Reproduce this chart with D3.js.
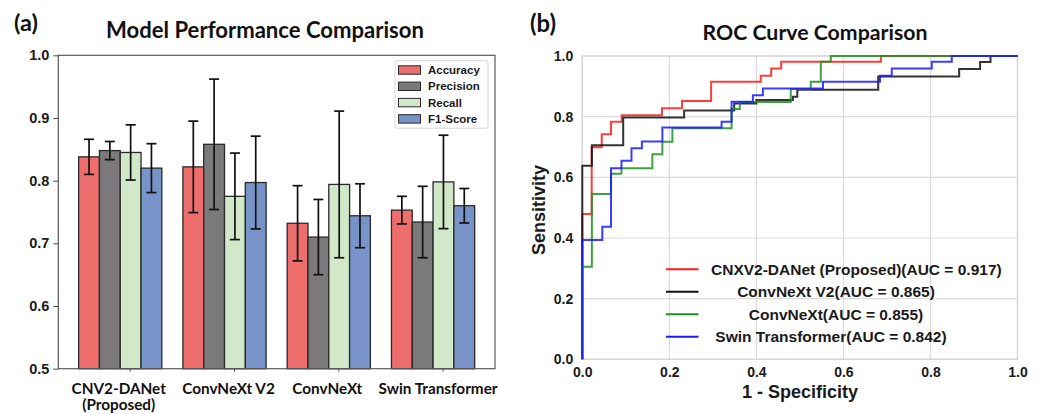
<!DOCTYPE html>
<html><head><meta charset="utf-8">
<script src="https://cdn.jsdelivr.net/npm/d3@7"></script>
<style>
html,body{margin:0;padding:0;background:#fff;}
svg{display:block;}
.cal{font-family:Lato,"Open Sans",sans-serif;font-weight:bold;fill:#111;}
.ar{font-family:"Liberation Sans",Arial,sans-serif;font-weight:bold;fill:#1a1a1a;}
</style></head>
<body>
<svg id="chart" width="1047" height="414"></svg>
<script>
// ---------- Data: panel (a) ----------
const categories = ["CNV2-DANet (Proposed)", "ConvNeXt V2", "ConvNeXt", "Swin Transformer"];
const categoryLines = [["CNV2-DANet", "(Proposed)"], ["ConvNeXt V2"], ["ConvNeXt"], ["Swin Transformer"]];
const metrics = ["Accuracy", "Precision", "Recall", "F1-Score"];
const accuracy     = [0.838, 0.822, 0.732, 0.753];
const accuracyErr  = [0.028, 0.073, 0.060, 0.022];
const precision    = [0.848, 0.858, 0.710, 0.734];
const precisionErr = [0.0145, 0.104, 0.060, 0.057];
const recall       = [0.845, 0.775, 0.794, 0.798];
const recallErr    = [0.044, 0.069, 0.117, 0.0745];
const f1           = [0.820, 0.797, 0.744, 0.760];
const f1Err        = [0.039, 0.074, 0.051, 0.0275];
const barTicks = [0.5, 0.6, 0.7, 0.8, 0.9, 1.0];

// ---------- Data: panel (b) ROC (step vertices) ----------
const rocModels = ["CNXV2-DANet (Proposed)", "ConvNeXt V2", "ConvNeXt", "Swin Transformer"];
const rocAUC = [0.917, 0.865, 0.855, 0.842];
const fprProposed = [0, 0, 0.0216, 0.0446, 0.066, 0.0906, 0.183, 0.229, 0.296, 0.41, 0.434, 0.457, 0.686, 1];
const tprProposed = [0, 0.479, 0.699, 0.742, 0.783, 0.805, 0.828, 0.852, 0.915, 0.935, 0.959, 0.981, 1, 1];
const fprV2 = [0, 0, 0.022, 0.094, 0.234, 0.349, 0.40, 0.484, 0.494, 0.68, 0.866, 0.914, 0.938, 1];
const tprV2 = [0, 0.638, 0.706, 0.797, 0.82, 0.843, 0.855, 0.866, 0.889, 0.932, 0.957, 0.98, 1, 1];
const fprConv = [0, 0, 0.022, 0.066, 0.09, 0.161, 0.184, 0.207, 0.343, 0.362, 0.479, 0.525, 0.548, 0.571, 1];
const tprConv = [0, 0.305, 0.545, 0.612, 0.63, 0.676, 0.717, 0.762, 0.825, 0.848, 0.891, 0.915, 0.981, 1, 1];
const fprSwin = [0, 0, 0.046, 0.066, 0.09, 0.113, 0.137, 0.184, 0.32, 0.343, 0.392, 0.415, 0.553, 0.684, 0.711, 0.803, 0.849, 1];
const tprSwin = [0, 0.393, 0.437, 0.63, 0.655, 0.696, 0.718, 0.764, 0.783, 0.849, 0.871, 0.893, 0.915, 0.935, 0.959, 0.981, 1, 1];
const rocTicks = [0, 0.2, 0.4, 0.6, 0.8, 1.0];

// ---------- Styles / layout ----------
const barColors = ["#ee6d6d", "#7b797b", "#d1e9c8", "#7893c8"];
const rocColors = ["#ff1a1a", "#111111", "#1f8f1f", "#1a1aff"];
const labelShift = [-1.5, 4, -1.5, 5];

const svg = d3.select("#chart");

function fitText(sel, target) {
  const node = sel.node();
  const fs = parseFloat(sel.attr("font-size"));
  const w = node.getComputedTextLength();
  if (w > 0) sel.attr("font-size", (fs * target / w).toFixed(2));
  return sel;
}

// ================= Panel (a) =================
const A = {left: 58.3, right: 495, top: 55.3, bottom: 368.7};
const x0 = d3.scaleBand().domain(categories).range([A.left, A.right]).paddingInner(0.202).paddingOuter(0.195);
const x1 = d3.scaleBand().domain(metrics).range([0, x0.bandwidth()]).padding(0);
const yA = d3.scaleLinear().domain([0.5, 1.0]).range([A.bottom, A.top]);

const series = [
  {name: metrics[0], vals: accuracy, errs: accuracyErr},
  {name: metrics[1], vals: precision, errs: precisionErr},
  {name: metrics[2], vals: recall, errs: recallErr},
  {name: metrics[3], vals: f1, errs: f1Err}
];
const barData = [];
categories.forEach((c, ci) => series.forEach((s, si) => barData.push({c, m: s.name, v: s.vals[ci], e: s.errs[ci], si})));

const gA = svg.append("g");
gA.selectAll("rect.bar").data(barData).join("rect")
  .attr("class", "bar")
  .attr("x", d => x0(d.c) + x1(d.m))
  .attr("y", d => yA(d.v))
  .attr("width", x1.bandwidth())
  .attr("height", d => yA(0.5) - yA(d.v))
  .attr("fill", d => barColors[d.si])
  .attr("stroke", "#2a2a2a").attr("stroke-width", 1.3);

// error bars
const eb = gA.selectAll("g.err").data(barData).join("g").attr("class", "err")
  .attr("stroke", "#111").attr("stroke-width", 1.7);
eb.append("line")
  .attr("x1", d => x0(d.c) + x1(d.m) + x1.bandwidth() / 2)
  .attr("x2", d => x0(d.c) + x1(d.m) + x1.bandwidth() / 2)
  .attr("y1", d => yA(d.v + d.e)).attr("y2", d => yA(d.v - d.e));
[1, -1].forEach(sign => {
  eb.append("line")
    .attr("x1", d => x0(d.c) + x1(d.m) + x1.bandwidth() / 2 - 5)
    .attr("x2", d => x0(d.c) + x1(d.m) + x1.bandwidth() / 2 + 5)
    .attr("y1", d => yA(d.v + sign * d.e)).attr("y2", d => yA(d.v + sign * d.e));
});

// frame
gA.append("rect").attr("x", A.left).attr("y", A.top).attr("width", A.right - A.left).attr("height", A.bottom - A.top)
  .attr("fill", "none").attr("stroke", "#5a5a5a").attr("stroke-width", 1.2);

// y axis
const yAxisA = d3.axisLeft(yA).tickValues(barTicks).tickFormat(d3.format(".1f")).tickSize(5).tickPadding(4);
const gyA = gA.append("g").attr("transform", `translate(${A.left},0)`).call(yAxisA);
gyA.select(".domain").remove();
gyA.selectAll(".tick line").attr("stroke", "#444");
gyA.selectAll(".tick text").attr("class", "ar").attr("font-size", 14.5).attr("fill", "#111");

// x category labels
const xLab = gA.selectAll("text.cat").data(categories).join("text")
  .attr("class", "cal").attr("text-anchor", "middle")
  .attr("font-size", 15.3)
  .attr("y", 394);
xLab.each(function(d, i) {
  const t = d3.select(this);
  const cx = x0(d) + x0.bandwidth() / 2 + labelShift[i];
  categoryLines[i].forEach((ln, li) => {
    t.append("tspan").attr("x", cx).attr("dy", li === 0 ? 0 : 16).text(ln);
  });
});

// small x ticks
gA.selectAll("line.xt").data(categories).join("line")
  .attr("x1", d => x0(d) + x0.bandwidth() / 2 + 10).attr("x2", d => x0(d) + x0.bandwidth() / 2 + 10)
  .attr("y1", A.bottom).attr("y2", A.bottom + 3).attr("stroke", "#555");

// legend (a)
const legA = gA.append("g");
legA.append("rect").attr("x", 395).attr("y", 60.7).attr("width", 93).attr("height", 67.5).attr("rx", 2)
  .attr("fill", "#fff").attr("stroke", "#d6d6d6");
metrics.forEach((m, i) => {
  const yy = 70 + i * 16.3;
  legA.append("rect").attr("x", 398.5).attr("y", yy - 4.2).attr("width", 22).attr("height", 8.4)
    .attr("fill", barColors[i]).attr("stroke", "#2a2a2a").attr("stroke-width", 1);
  legA.append("text").attr("class", "ar").attr("x", 428).attr("y", yy + 4).attr("font-size", 11.5).text(m);
});

// titles
fitText(svg.append("text").attr("class", "cal").attr("x", 265).attr("y", 37.5).attr("text-anchor", "middle")
  .attr("font-size", 19).text("Model Performance Comparison"), 318);
fitText(svg.append("text").attr("class", "cal").attr("x", 14).attr("y", 31).attr("font-size", 20).text("(a)"), 24);

// ================= Panel (b) =================
const B = {left: 582.3, right: 1017.5, top: 56, bottom: 359.3};
const xB = d3.scaleLinear().domain([0, 1]).range([B.left, B.right]);
const yB = d3.scaleLinear().domain([0, 1]).range([B.bottom, B.top]);
const gB = svg.append("g");

// grid
gB.selectAll("line.gx").data(rocTicks).join("line")
  .attr("x1", d => xB(d)).attr("x2", d => xB(d)).attr("y1", B.top).attr("y2", B.bottom)
  .attr("stroke", "#dcdcdc").attr("stroke-width", 1.2);
gB.selectAll("line.gy").data(rocTicks).join("line")
  .attr("y1", d => yB(d)).attr("y2", d => yB(d)).attr("x1", B.left).attr("x2", B.right)
  .attr("stroke", "#dcdcdc").attr("stroke-width", 1.2);
gB.append("rect").attr("x", B.left).attr("y", B.top).attr("width", B.right - B.left).attr("height", B.bottom - B.top)
  .attr("fill", "none").attr("stroke", "#d4d4d4").attr("stroke-width", 1.3);

// curves
const rocData = [
  {name: rocModels[0], fpr: fprProposed, tpr: tprProposed},
  {name: rocModels[1], fpr: fprV2, tpr: tprV2},
  {name: rocModels[2], fpr: fprConv, tpr: tprConv},
  {name: rocModels[3], fpr: fprSwin, tpr: tprSwin}
];
const line = d3.line().x(d => xB(d[0])).y(d => yB(d[1])).curve(d3.curveStepAfter);
rocData.forEach((r, i) => {
  gB.append("path").datum(d3.zip(r.fpr, r.tpr))
    .attr("d", line).attr("fill", "none")
    .attr("stroke", rocColors[i]).attr("stroke-width", 2).attr("stroke-opacity", 0.85);
});

// axes labels
const xAxisB = d3.axisBottom(xB).tickValues(rocTicks).tickFormat(d3.format(".1f")).tickSize(0).tickPadding(8);
const gxB = gB.append("g").attr("transform", `translate(0,${B.bottom})`).call(xAxisB);
gxB.select(".domain").remove();
gxB.selectAll(".tick text").attr("class", "ar").attr("font-size", 14).attr("fill", "#1a1a1a");
const yAxisB = d3.axisLeft(yB).tickValues(rocTicks).tickFormat(d3.format(".1f")).tickSize(0).tickPadding(9);
const gyB = gB.append("g").attr("transform", `translate(${B.left},0)`).call(yAxisB);
gyB.select(".domain").remove();
gyB.selectAll(".tick text").attr("class", "ar").attr("font-size", 14).attr("fill", "#1a1a1a");

svg.append("text").attr("class", "ar").attr("font-size", 18).attr("text-anchor", "middle")
  .attr("transform", "translate(545,210) rotate(-90)").text("Sensitivity");
svg.append("text").attr("class", "ar").attr("font-size", 18).attr("text-anchor", "middle")
  .attr("x", 800).attr("y", 398).text("1 - Specificity");

// legend (b)
const legB = gB.append("g");
rocData.forEach((r, i) => {
  const yy = 269.3 + i * 22.5;
  legB.append("line").attr("x1", 666).attr("x2", 698.5).attr("y1", yy).attr("y2", yy)
    .attr("stroke", rocColors[i]).attr("stroke-width", 2);
  const t = legB.append("text").attr("class", "ar").attr("font-size", 15.5).attr("y", yy + 5.5)
    .text(`${r.name}(AUC = ${rocAUC[i].toFixed(3)})`);
  if (i === 0) t.attr("x", 711);
  else t.attr("x", i === 3 ? 831 : 836).attr("text-anchor", "middle");
});

fitText(svg.append("text").attr("class", "cal").attr("x", 815).attr("y", 40).attr("text-anchor", "middle")
  .attr("font-size", 19).text("ROC Curve Comparison"), 225);
fitText(svg.append("text").attr("class", "cal").attr("x", 530).attr("y", 32).attr("font-size", 20).text("(b)"), 26);
</script>
</body></html>
